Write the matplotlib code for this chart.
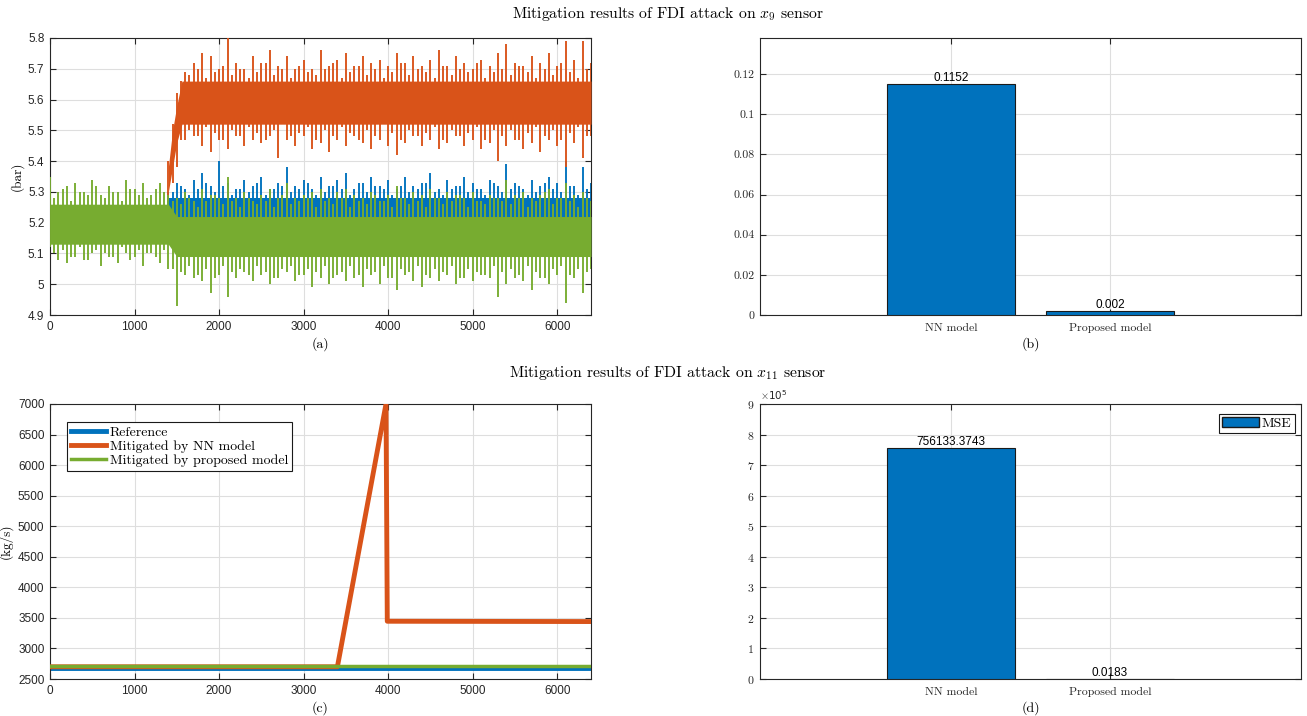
import numpy as np
import matplotlib
matplotlib.use("Agg")
import matplotlib.pyplot as plt
from matplotlib.ticker import ScalarFormatter

plt.rcParams['mathtext.fontset'] = 'cm'
plt.rcParams['axes.unicode_minus'] = False

# ---------------- data ----------------
# (a) x9 sensor, pressure (bar); noise extremes read at 100-sample steps (and offset by 50)
t_all = np.arange(0, 6401, 100)
t_all2 = np.arange(50, 6351, 100)
t_att = np.arange(1400, 6401, 100)
t_att2 = np.arange(1450, 6351, 100)

green_hi = [5.35, 5.30, 5.32, 5.33, 5.30, 5.34, 5.29, 5.32, 5.30, 5.34, 5.31, 5.33, 5.29, 5.33,
            5.29, 5.28, 5.30, 5.27, 5.31, 5.29, 5.28, 5.35, 5.28, 5.30,
            5.27, 5.29, 5.31, 5.28, 5.33, 5.28, 5.29, 5.30, 5.31, 5.28,
            5.30, 5.31, 5.29, 5.28, 5.30, 5.27, 5.29, 5.32, 5.28, 5.30,
            5.29, 5.31, 5.28, 5.30, 5.29, 5.28, 5.30, 5.27, 5.29, 5.28,
            5.34, 5.29, 5.30, 5.28, 5.29, 5.31, 5.28, 5.33, 5.29, 5.30, 5.27]
green_lo = [5.12, 5.08, 5.07, 5.09, 5.08, 5.10, 5.06, 5.09, 5.07, 5.10, 5.09, 5.06, 5.10, 5.07,
            5.05, 4.93, 5.03, 5.02, 5.01, 4.97, 5.03, 4.96, 5.02, 5.04,
            5.01, 5.03, 5.00, 5.02, 5.04, 5.01, 5.03, 4.99, 5.02, 5.00,
            5.03, 5.01, 5.02, 4.99, 5.03, 5.00, 5.02, 4.98, 5.03, 5.01,
            4.99, 5.02, 5.01, 5.03, 5.00, 5.02, 5.01, 5.03, 5.02, 4.96,
            5.00, 5.02, 5.01, 4.98, 5.02, 5.00, 5.03, 4.94, 5.02, 4.97, 5.05]
green_hi2 = [5.28, 5.31, 5.27, 5.30, 5.29, 5.32, 5.28, 5.30, 5.27, 5.31, 5.29, 5.28, 5.31, 5.30,
             5.27, 5.26, 5.28, 5.25, 5.27, 5.29, 5.26, 5.27, 5.25, 5.28,
             5.26, 5.27, 5.25, 5.29, 5.26, 5.27, 5.28, 5.25, 5.27, 5.26,
             5.28, 5.25, 5.27, 5.26, 5.29, 5.27, 5.25, 5.28, 5.26, 5.27,
             5.25, 5.28, 5.26, 5.27, 5.29, 5.25, 5.27, 5.26, 5.28, 5.27,
             5.26, 5.28, 5.25, 5.27, 5.30, 5.26, 5.28, 5.27, 5.25, 5.28]
green_lo2 = [5.10, 5.11, 5.09, 5.12, 5.08, 5.11, 5.10, 5.09, 5.12, 5.08, 5.11, 5.10, 5.09, 5.11,
             5.05, 5.04, 5.06, 5.03, 5.05, 5.02, 5.06, 5.04, 5.05, 5.03,
             5.06, 5.04, 5.02, 5.05, 5.06, 5.03, 5.05, 5.04, 5.06, 5.02,
             5.04, 5.06, 5.03, 5.05, 5.04, 5.06, 5.02, 5.05, 5.04, 5.06,
             5.03, 5.05, 5.04, 5.06, 5.02, 5.05, 5.04, 5.03, 5.06, 5.04,
             5.05, 5.03, 5.06, 5.04, 5.02, 5.05, 5.06, 5.03, 5.05, 5.04]
blue_hi = [5.30, 5.33, 5.31, 5.34, 5.36, 5.32, 5.40, 5.33, 5.31, 5.34,
           5.32, 5.35, 5.31, 5.33, 5.38, 5.32, 5.34, 5.31, 5.35, 5.32,
           5.34, 5.36, 5.31, 5.33, 5.35, 5.32, 5.34, 5.31, 5.35, 5.32,
           5.33, 5.36, 5.31, 5.34, 5.32, 5.35, 5.33, 5.31, 5.34, 5.32,
           5.39, 5.33, 5.31, 5.34, 5.32, 5.35, 5.33, 5.40, 5.32, 5.38, 5.33]
blue_lo = [5.20, 5.19, 5.18, 5.17, 5.19, 5.18, 5.20, 5.17, 5.19, 5.18,
           5.19, 5.17, 5.18, 5.20, 5.18, 5.19, 5.17, 5.18, 5.19, 5.20,
           5.18, 5.19, 5.17, 5.18, 5.20, 5.19, 5.18, 5.17, 5.19, 5.18,
           5.20, 5.18, 5.19, 5.17, 5.18, 5.19, 5.20, 5.18, 5.17, 5.19,
           5.18, 5.19, 5.20, 5.17, 5.18, 5.19, 5.18, 5.17, 5.19, 5.18, 5.19]
blue_hi2 = [5.30, 5.32, 5.29, 5.31, 5.33, 5.30, 5.32, 5.29, 5.31, 5.30,
            5.33, 5.29, 5.31, 5.32, 5.30, 5.31, 5.33, 5.29, 5.30, 5.32,
            5.31, 5.29, 5.33, 5.30, 5.32, 5.31, 5.29, 5.32, 5.30, 5.31,
            5.33, 5.30, 5.29, 5.31, 5.32, 5.30, 5.31, 5.29, 5.33, 5.30,
            5.31, 5.32, 5.29, 5.30, 5.33, 5.31, 5.30, 5.32, 5.29, 5.31]
blue_lo2 = [5.19, 5.20, 5.18, 5.19, 5.21, 5.18, 5.20, 5.19, 5.18, 5.20,
            5.19, 5.21, 5.18, 5.19, 5.20, 5.18, 5.19, 5.21, 5.20, 5.18,
            5.19, 5.20, 5.18, 5.21, 5.19, 5.18, 5.20, 5.19, 5.21, 5.18,
            5.20, 5.19, 5.18, 5.20, 5.21, 5.19, 5.18, 5.20, 5.19, 5.21,
            5.18, 5.19, 5.20, 5.18, 5.21, 5.19, 5.20, 5.18, 5.19, 5.20]
orange_hi = [5.40, 5.62, 5.69, 5.72, 5.75, 5.74, 5.70, 5.80, 5.72, 5.70,
             5.74, 5.72, 5.76, 5.71, 5.74, 5.70, 5.73, 5.70, 5.76, 5.71,
             5.73, 5.75, 5.71, 5.74, 5.72, 5.73, 5.71, 5.75, 5.72, 5.74,
             5.71, 5.73, 5.76, 5.71, 5.74, 5.72, 5.70, 5.73, 5.71, 5.75,
             5.78, 5.72, 5.71, 5.74, 5.72, 5.75, 5.71, 5.79, 5.73, 5.79, 5.72]
orange_lo = [5.27, 5.38, 5.47, 5.48, 5.45, 5.43, 5.47, 5.44, 5.48, 5.45,
             5.47, 5.46, 5.48, 5.41, 5.47, 5.45, 5.48, 5.44, 5.46, 5.43,
             5.47, 5.45, 5.48, 5.46, 5.44, 5.47, 5.45, 5.42, 5.46, 5.48,
             5.45, 5.47, 5.44, 5.46, 5.48, 5.45, 5.47, 5.44, 5.46, 5.40,
             5.45, 5.47, 5.44, 5.46, 5.43, 5.47, 5.45, 5.38, 5.46, 5.41, 5.48]
orange_hi2 = [5.52, 5.66, 5.68, 5.70, 5.67, 5.69, 5.71, 5.68, 5.70, 5.67,
              5.69, 5.72, 5.68, 5.70, 5.67, 5.71, 5.69, 5.68, 5.70, 5.72,
              5.67, 5.69, 5.71, 5.68, 5.70, 5.67, 5.69, 5.72, 5.68, 5.70,
              5.69, 5.67, 5.71, 5.68, 5.70, 5.69, 5.72, 5.67, 5.69, 5.70,
              5.68, 5.71, 5.69, 5.67, 5.70, 5.68, 5.72, 5.69, 5.67, 5.70]
orange_lo2 = [5.33, 5.47, 5.50, 5.48, 5.51, 5.49, 5.47, 5.50, 5.48, 5.51,
              5.49, 5.47, 5.50, 5.52, 5.48, 5.49, 5.51, 5.47, 5.50, 5.48,
              5.51, 5.49, 5.47, 5.50, 5.48, 5.52, 5.49, 5.47, 5.50, 5.48,
              5.49, 5.51, 5.47, 5.50, 5.48, 5.49, 5.51, 5.47, 5.50, 5.48,
              5.50, 5.47, 5.49, 5.51, 5.48, 5.50, 5.47, 5.49, 5.51, 5.48]
# dense core of each noisy trace
green_core_t = [0, 1400, 1500, 6400]
green_core_lo = [5.13, 5.13, 5.09, 5.09]
green_core_hi = [5.26, 5.26, 5.22, 5.22]
blue_core_t = [1400, 6400]
blue_core_lo = [5.21, 5.21]
blue_core_hi = [5.28, 5.28]
orange_core_t = [1400, 1450, 1500, 1560, 6400]
orange_core_lo = [5.30, 5.38, 5.46, 5.52, 5.52]
orange_core_hi = [5.38, 5.50, 5.58, 5.66, 5.66]

# (c) x11 sensor, flow (kg/s)
c_t = [0, 3400, 3975, 3990, 6400]
c_reference = [2680, 2680, 2680, 2680, 2680]
c_nn = [2700, 2700, 7000, 3445, 3440]
c_proposed = [2712, 2712, 2712, 2712, 2712]

# (b), (d) MSE bars
models = ['NN model', 'Proposed model']
mse_x9 = [0.1152, 0.002]
mse_x11 = [756133.3743, 0.0183]

C_BLUE = '#0072BD'
C_ORANGE = '#D95319'
C_GREEN = '#77AC30'
GRID = '#DEDEDE'
SPINE = '#262626'
SERIF = 'cmr10'
SANS = 'Liberation Sans'

W, H = 1307, 716
fig = plt.figure(figsize=(W / 100, H / 100), dpi=100)


def add_ax(l, r, t, b):
    return fig.add_axes([l / W, (H - b) / H, (r - l) / W, (b - t) / H])


def style(ax, tickfont):
    ax.grid(True, color=GRID, linewidth=0.8)
    ax.set_axisbelow(True)
    for s in ax.spines.values():
        s.set_color(SPINE)
        s.set_linewidth(0.8)
    ax.tick_params(direction='in', top=True, right=True, length=4, width=0.8,
                   colors=SPINE, labelsize=8.5, pad=4)
    for lab in ax.get_xticklabels() + ax.get_yticklabels():
        lab.set_family(tickfont)


ax1 = add_ax(50, 591, 38, 315)
ax2 = add_ax(760, 1301, 38, 315)
ax3 = add_ax(50, 591, 404, 679)
ax4 = add_ax(760, 1301, 404, 679)


# ---------- (a) ----------
def noisy(ax, ct, clo, chi, strokes, color, z):
    ax.fill_between(ct, clo, chi, color=color, linewidth=0, zorder=z)
    for t, lo, hi in strokes:
        ax.vlines(t, lo, hi, color=color, linewidth=1.35, zorder=z)


noisy(ax1, blue_core_t, blue_core_lo, blue_core_hi,
      [(t_att, blue_lo, blue_hi), (t_att2, blue_lo2, blue_hi2)], C_BLUE, 2)
noisy(ax1, orange_core_t, orange_core_lo, orange_core_hi,
      [(t_att, orange_lo, orange_hi), (t_att2, orange_lo2, orange_hi2)], C_ORANGE, 3)
noisy(ax1, green_core_t, green_core_lo, green_core_hi,
      [(t_all, green_lo, green_hi), (t_all2, green_lo2, green_hi2)], C_GREEN, 4)
ax1.set_xlim(0, 6400)
ax1.set_ylim(4.9, 5.8)
ax1.set_xticks(np.arange(0, 6001, 1000))
ax1.set_yticks(np.round(np.arange(4.9, 5.81, 0.1), 1))
ax1.set_yticklabels(['4.9', '5', '5.1', '5.2', '5.3', '5.4', '5.5', '5.6', '5.7', '5.8'])
style(ax1, SANS)
ax1.set_ylabel('(bar)', family=SERIF, fontsize=9.5, labelpad=3)
ax1.set_xlabel('(a)', family=SERIF, fontsize=10, labelpad=3)


# ---------- (b) ----------
def bars(ax, vals):
    b = ax.bar([1, 2], vals, width=0.8, color=C_BLUE, edgecolor='#1a1a1a', linewidth=0.8, zorder=3)
    labels = [('%.4f' % v).rstrip('0') for v in vals]
    ax.bar_label(b, labels=labels, padding=0, fontsize=8.5, family=SANS, zorder=4)
    ax.set_xlim(-0.2, 3.2)
    ax.set_xticks([1, 2])
    ax.set_xticklabels(models)
    return b


bars(ax2, mse_x9)
ax2.set_ylim(0, 0.138)
ax2.set_yticks([0, 0.02, 0.04, 0.06, 0.08, 0.1, 0.12])
ax2.set_yticklabels(['0', '0.02', '0.04', '0.06', '0.08', '0.1', '0.12'])
style(ax2, SERIF)
ax2.set_xlabel('(b)', family=SERIF, fontsize=10, labelpad=3)

# ---------- (c) ----------
ax3.plot(c_t, c_reference, color=C_BLUE, linewidth=3.5, zorder=2, label='Reference')
ax3.plot(c_t, c_nn, color=C_ORANGE, linewidth=3.5, zorder=3, label='Mitigated by NN model')
ax3.plot(c_t, c_proposed, color=C_GREEN, linewidth=2.5, zorder=4, label='Mitigated by proposed model')
ax3.set_xlim(0, 6400)
ax3.set_ylim(2500, 7000)
ax3.set_xticks(np.arange(0, 6001, 1000))
ax3.set_yticks(np.arange(2500, 7001, 500))
style(ax3, SANS)
ax3.set_ylabel('(kg/s)', family=SERIF, fontsize=9.5, labelpad=4)
ax3.set_xlabel('(c)', family=SERIF, fontsize=10, labelpad=3)
leg = ax3.legend(loc='upper left', bbox_to_anchor=(0.031, 0.935), borderaxespad=0,
                 prop={'family': SERIF, 'size': 10}, frameon=True, fancybox=False,
                 edgecolor='#1a1a1a', framealpha=1, handlelength=2.5, handletextpad=0.3,
                 labelspacing=0.1, borderpad=0.3)
leg.get_frame().set_linewidth(0.8)

# ---------- (d) ----------
bars(ax4, mse_x11)
ax4.set_ylim(0, 9e5)
ax4.set_yticks(np.arange(0, 9.01e5, 1e5))
fmt = ScalarFormatter(useMathText=True)
fmt.set_powerlimits((0, 0))
ax4.yaxis.set_major_formatter(fmt)
style(ax4, SERIF)
ax4.yaxis.get_offset_text().set_fontsize(7.5)
ax4.set_xlabel('(d)', family=SERIF, fontsize=10, labelpad=3)
lg4 = ax4.legend([plt.Rectangle((0, 0), 1, 1, facecolor=C_BLUE, edgecolor='#1a1a1a')], ['MSE'],
                 loc='upper right', bbox_to_anchor=(0.988, 0.965), borderaxespad=0,
                 prop={'family': SERIF, 'size': 10}, fancybox=False, edgecolor='#1a1a1a',
                 framealpha=1, handlelength=2.6, handletextpad=0.2, borderpad=0.25)
lg4.get_frame().set_linewidth(0.8)

for ax in (ax2, ax4):
    for lab in ax.get_xticklabels():
        lab.set_family(SERIF)
        lab.set_fontsize(8.5)
    ax.tick_params(axis='x', pad=6)

fig.text(668 / W, 1 - 14 / H, 'Mitigation results of FDI attack on $x_9$ sensor',
         family=SERIF, fontsize=11.3, ha='center', va='center')
fig.text(668 / W, 1 - 373 / H, 'Mitigation results of FDI attack on $x_{11}$ sensor',
         family=SERIF, fontsize=11.3, ha='center', va='center')

fig.savefig('out.png', dpi=100)
